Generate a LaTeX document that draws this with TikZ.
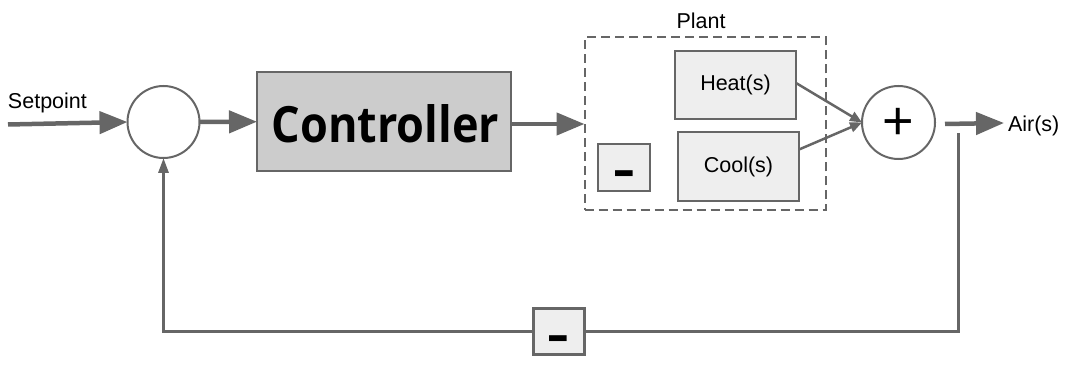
\documentclass[tikz,border=0pt]{standalone}
\usepackage{fontspec}
\setmainfont{Liberation Sans}
\newfontfamily\ctrlfont{Open Sans}
\usetikzlibrary{arrows.meta}
\definecolor{linegray}{HTML}{666666}
\definecolor{boxfill}{HTML}{EEEEEE}
\definecolor{ctrlfill}{HTML}{CCCCCC}
\begin{document}
\begin{tikzpicture}[x=1pt,y=-1pt,
  every node/.style={inner sep=0pt, outer sep=0pt},
  label/.style={font=\fontsize{21.5}{24}\selectfont},
  blockbox/.style={draw=linegray, line width=2.5pt, fill=boxfill, label},
  sumnode/.style={draw=linegray, line width=2pt, fill=white, circle},
  minusbox/.style={draw=linegray, line width=3pt, fill=boxfill,
    minimum width=51pt, minimum height=46pt},
  bigflow/.style={draw=linegray, line width=4.5pt,
    -{Triangle[length=28pt,width=22pt]}},
  thinflow/.style={draw=linegray, line width=2.5pt,
    -{Triangle[length=12pt,width=10pt]}},
  feedback/.style={draw=linegray, line width=3pt},
  minussign/.style={anchor=base, font=\ctrlfont\bfseries\fontsize{48}{48}\selectfont},
]
\useasboundingbox (0,0) rectangle (1068,366);

% summing junctions
\node[sumnode, minimum size=72pt] (sum1) at (163.5,122) {};
\node[sumnode, minimum size=73pt] (sum2) at (898.5,122.5) {};
\node[font=\fontsize{54}{54}\selectfont] (plus) at (898.5,124) {+};

% controller
\node[draw=linegray, line width=2.5pt, fill=ctrlfill,
      minimum width=254pt, minimum height=99pt] (ctrl) at (384,121.7) {};
\node[font=\ctrlfont\bfseries\fontsize{50}{50}\selectfont] (ctrltext) at (385.5,124) {\scalebox{0.9}[1]{Controller}};

% plant
\node[draw=linegray, line width=2pt, dash pattern=on 9pt off 5pt,
      minimum width=241pt, minimum height=173pt] (plant) at (705,124) {};
\node[label, anchor=base] (plantlbl) at (701,29) {Plant};
\node[blockbox, minimum width=121pt, minimum height=68pt] (heat) at (735.5,85) {Heat(s)};
\node[blockbox, minimum width=121pt, minimum height=69pt] (cool) at (738.5,166.5) {Cool(s)};
\node[minusbox, line width=2.5pt, minimum width=52pt, minimum height=47pt] (pminus) at (624,167.5) {};
\node[minussign] (pminussign) at (624,186.7) {\scalebox{1.4}[1]{-}};

% feedback gain
\node[minusbox] (fbminus) at (558.5,331.5) {};
\node[minussign] (fbminussign) at (558.5,351) {\scalebox{1.4}[1]{-}};

% terminals
\coordinate (in) at (8,124.5);
\coordinate (outstart) at (945,124);
\coordinate (out) at (1004,123);
\coordinate (fbtop) at (958,133);
\node[label, anchor=base west] (sp) at (8,108.5) {Setpoint};
\node[label, anchor=west] (air) at (1008,126) {Air(s)};

% forward path
\draw[bigflow] (in) -- (sum1.west);
\draw[bigflow] (sum1.east) -- (ctrl.west);
\draw[bigflow] (ctrl.east |- plant.west) -- (plant.west);
\draw[thinflow] ([yshift=2pt]heat.east) -- (sum2.west);
\draw[thinflow] ([yshift=17pt]cool.east) -- (sum2.west);
\draw[bigflow] (outstart) -- (out);

% feedback path
\draw[feedback] (fbtop) |- (fbminus.east);
\draw[feedback, -{Triangle[length=15pt,width=10pt]}] (fbminus.west) -| (sum1.south);
\end{tikzpicture}
\end{document}
